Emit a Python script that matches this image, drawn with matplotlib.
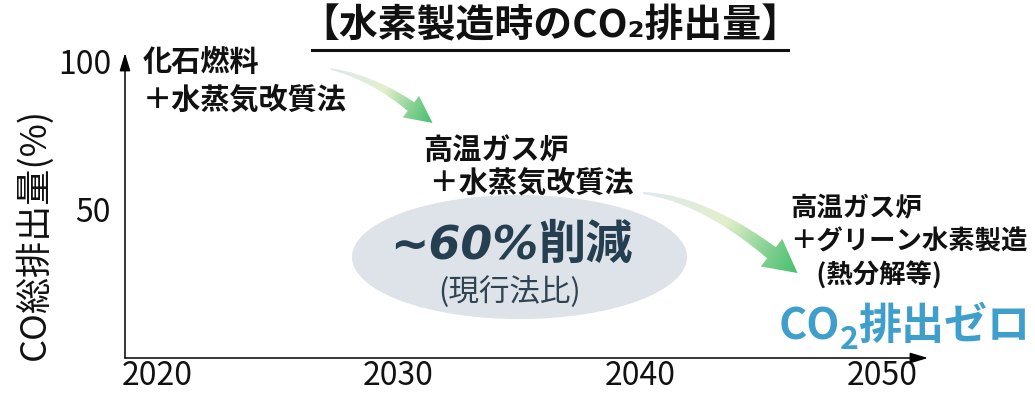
import numpy as np
import matplotlib
matplotlib.use('Agg')
import matplotlib.pyplot as plt
from matplotlib.patches import Ellipse, PathPatch
from matplotlib.path import Path
from matplotlib.colors import LinearSegmentedColormap
from matplotlib.transforms import ScaledTranslation
from matplotlib.lines import Line2D

plt.rcParams['font.family'] = ['Noto Sans CJK JP', 'DejaVu Sans']

# 軸
years = [2020, 2030, 2040, 2050]
pct_ticks = [50, 100]
x_range = (2018.68, 2051.9)
y_range = (0, 103)

title = '【水素製造時のCO₂排出量】'
ylabel = 'CO総排出量(%)'

# 各段階: 左端(年), 1行目の高さ(%), 行間(%), テキスト
stage_year = [2019.4, 2031.0, 2046.2]
stage_pct = [100, 70.3, 50.7]
stage_gap = [12.8, 11.2, 11.5]
stage_size = [21, 21, 19]
stage_lines = [
    ['化石燃料', '＋水蒸気改質法'],
    ['高温ガス炉', ' ＋水蒸気改質法'],
    ['高温ガス炉', '＋グリーン水素製造', '　(熱分解等)'],
]

# 段階間の矢印 (始点 -> 先端)
arrow_tail_year = [2027.2, 2040.1]
arrow_tail_pct = [97.6, 55.7]
arrow_tip_year = [2031.4, 2046.5]
arrow_tip_pct = [79.4, 28.7]

# 削減率の楕円
reduction = 60
reduction_year = 2035.0
reduction_pct = 34.1
reduction_note = '(現行法比)'

# 排出ゼロ
zero_year = 2045.7
zero_pct = 6.4

fig = plt.figure(figsize=(10.35, 3.93), dpi=100)
ax = fig.add_axes([125 / 1035, 35 / 393, 803 / 1035, 305 / 393])
ax.set_xlim(*x_range)
ax.set_ylim(*y_range)
ax.autoscale(False)

for s in ax.spines.values():
    s.set_visible(False)
ax.set_xticks(years)
ax.set_xticklabels([str(y) for y in years])
ax.set_yticks(pct_ticks)
ax.set_yticklabels([str(p) for p in pct_ticks])
ax.tick_params(length=0, labelsize=23, colors='#111111')
ax.tick_params(axis='x', pad=1.5)
ax.tick_params(axis='y', pad=10)

ax.set_ylabel(ylabel, fontsize=26, color='#111111')
ax.yaxis.label.set(va='center', ha='center', rotation_mode='anchor')
ax.yaxis.set_label_coords(-0.1133, 0.4066)

# 軸の矢印
arrow_kw = dict(arrowstyle='-|>,head_length=0.6,head_width=0.18', color='black',
                lw=1.1, shrinkA=0, shrinkB=0, mutation_scale=18)
ax.annotate('', xy=(1, 0), xytext=(0, 0), xycoords='axes fraction',
            arrowprops=arrow_kw, annotation_clip=False)
ax.annotate('', xy=(0, 1), xytext=(0, 0), xycoords='axes fraction',
            arrowprops=arrow_kw, annotation_clip=False)

cmap = LinearSegmentedColormap.from_list(
    'grn', [(0, '#dfe9ef'), (0.5, '#e3efcb'), (0.8, '#7fcf8e'), (1, '#44c06e')])


def gradient_arrow(ax, tail, tip, tail_deg, head_deg, head_len, head_w):
    T = ax.transData
    p0 = T.transform(tail)
    p3 = T.transform(tip)
    uh = np.array([np.cos(np.radians(head_deg)), np.sin(np.radians(head_deg))])
    ut = np.array([np.cos(np.radians(tail_deg)), np.sin(np.radians(tail_deg))])
    p2 = p3 - uh * head_len
    a, b = np.linalg.solve(np.column_stack([ut, uh]), p2 - p0)
    p1 = p0 + a * ut
    t = np.linspace(0, 1, 80)[:, None]
    curve = (1 - t) ** 2 * p0 + 2 * (1 - t) * t * p1 + t ** 2 * p2
    deriv = 2 * (1 - t) * (p1 - p0) + 2 * t * (p2 - p1)
    normal = np.column_stack([-deriv[:, 1], deriv[:, 0]])
    normal /= np.linalg.norm(normal, axis=1)[:, None]
    half = head_w * 0.2 * (0.15 + 0.85 * t)
    upper = curve + normal * half
    lower = curve - normal * half
    nh = np.array([-uh[1], uh[0]])
    poly = np.vstack([upper, p2 + nh * head_w / 2, p3, p2 - nh * head_w / 2, lower[::-1]])
    patch = PathPatch(Path(T.inverted().transform(poly)), fc='none', ec='none',
                      transform=T)
    ax.add_patch(patch)

    x0, y0 = poly.min(0)
    x1, y1 = poly.max(0)
    gx, gy = np.meshgrid(np.linspace(x0, x1, 300), np.linspace(y0, y1, 300))
    d = p3 - p0
    val = ((gx - p0[0]) * d[0] + (gy - p0[1]) * d[1]) / (d @ d)
    (ex0, ey0), (ex1, ey1) = T.inverted().transform([(x0, y0), (x1, y1)])
    im = ax.imshow(np.clip(val, 0, 1), cmap=cmap, vmin=0, vmax=1, origin='lower',
                   extent=(ex0, ex1, ey0, ey1), aspect='auto',
                   interpolation='bilinear', zorder=2)
    im.set_clip_path(patch)


gradient_arrow(ax, (arrow_tail_year[0], arrow_tail_pct[0]),
               (arrow_tip_year[0], arrow_tip_pct[0]), -12, -37, 27, 27)
gradient_arrow(ax, (arrow_tail_year[1], arrow_tail_pct[1]),
               (arrow_tip_year[1], arrow_tip_pct[1]), -5, -38, 33, 35)
ax.set_xlim(*x_range)
ax.set_ylim(*y_range)

# 段階のラベル
for x, y, gap, size, lines in zip(stage_year, stage_pct, stage_gap, stage_size,
                                  stage_lines):
    for i, line in enumerate(lines):
        ax.text(x, y - i * gap, line, fontsize=size, weight='bold', color='#111111',
                ha='left', va='center', zorder=4)

ax.add_patch(Ellipse((reduction_year, reduction_pct), 13.86, 41.9,
                     fc='#dde3e8', ec='none', zorder=1))

renderer = fig.canvas.get_renderer()


def text_row(x, y, pieces, center=False):
    arts = []
    for s, kw, dy in pieces:
        arts.append((ax.text(x, y, s, ha='left', va='baseline', zorder=4, **kw), dy))
    widths = [t.get_window_extent(renderer).width for t, _ in arts]
    off = -sum(widths) / 2 if center else 0
    for (t, dy), w in zip(arts, widths):
        t.set_transform(ax.transData +
                        ScaledTranslation(off / fig.dpi, dy / 72, fig.dpi_scale_trans))
        off += w


dark = '#253f50'
text_row(reduction_year - 0.35, reduction_pct - 0.8,
         [(f'~{reduction}%', dict(family='DejaVu Sans', style='italic',
                                  weight='bold', fontsize=33, color=dark), 0),
          ('削減', dict(fontsize=34, weight='bold', color=dark), 0)],
         center=True)
ax.text(reduction_year - 0.4, reduction_pct - 12.0, reduction_note, fontsize=22,
        color='#2f4352', ha='center', va='center', zorder=4)

blue = '#3f9fcc'
text_row(zero_year, zero_pct,
         [('CO', dict(fontsize=31, weight='bold', color=blue), 0),
          ('2', dict(fontsize=23, weight='bold', color=blue), -7),
          ('排出ゼロ', dict(fontsize=31, weight='bold', color=blue), 0)])

# タイトルと下線
title_size = 28
ttl = fig.text(550 / 1035, 1 - 26 / 393, title, fontsize=title_size, weight='bold',
               ha='center', va='center', color='#111111')
bb = ttl.get_window_extent(renderer)
trim = 0.3 * title_size * fig.dpi / 72
fig.add_artist(Line2D([(bb.x0 + trim) / fig.bbox.width, (bb.x1 - trim) / fig.bbox.width],
                      [1 - 50 / 393] * 2, color='#111111', lw=2.2))

fig.savefig('out.png', dpi=100)
